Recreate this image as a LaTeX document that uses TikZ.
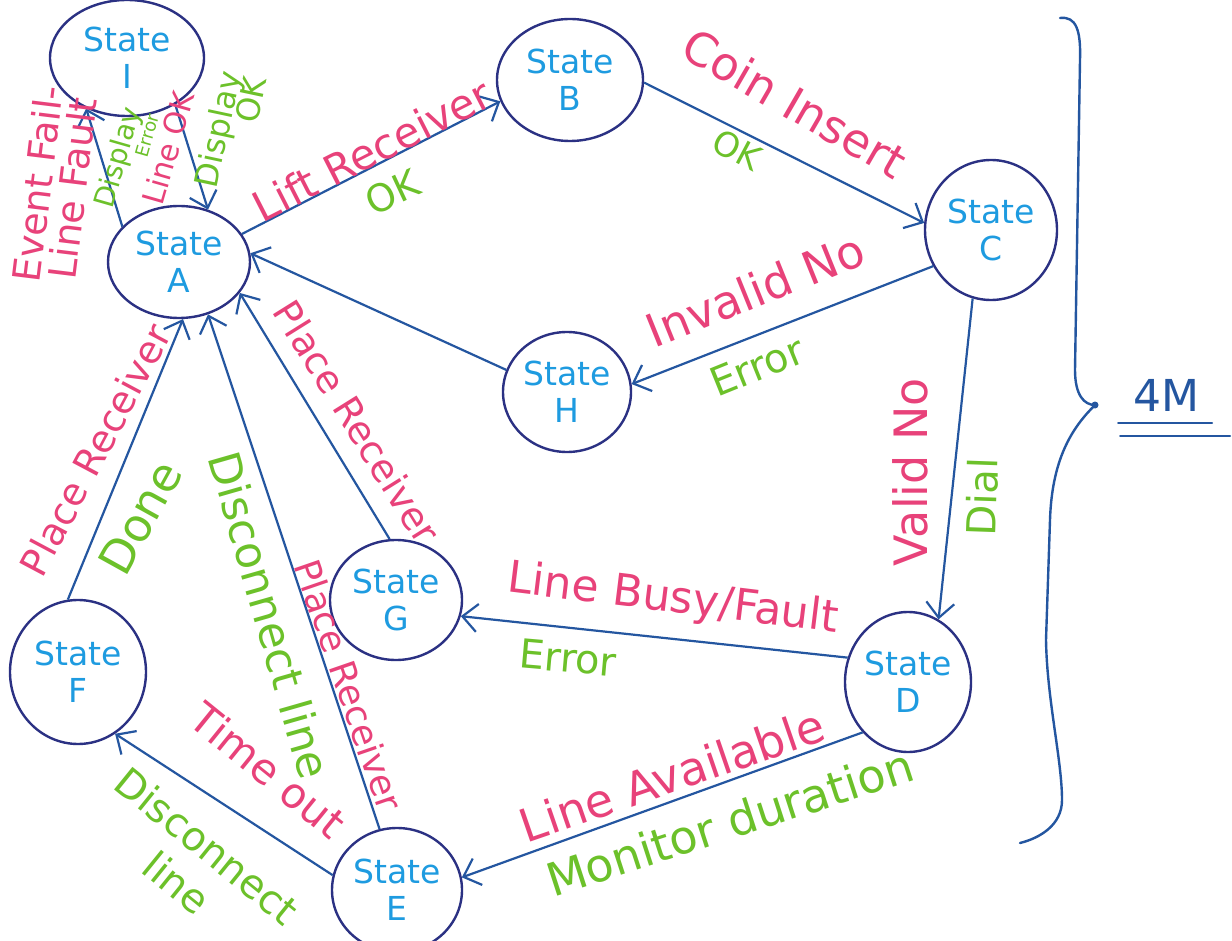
\documentclass[tikz,border=0pt]{standalone}
\usepackage{fontspec}
\setmainfont{DejaVu Sans}
\usetikzlibrary{shapes.geometric,arrows.meta}
\definecolor{navy}{HTML}{2B3183}
\definecolor{edgeblue}{HTML}{2456A0}
\definecolor{statecyan}{HTML}{1E9BE0}
\definecolor{pinkl}{HTML}{E8427A}
\definecolor{greenl}{HTML}{6CC12A}
\begin{document}
\begin{tikzpicture}[x=1pt,y=-1pt,
  state/.style={ellipse, draw=navy, line width=2.4pt, text=statecyan, inner sep=0pt, align=center, font=\fontsize{33}{37}\selectfont},
  conn/.style={draw=edgeblue, line width=2.2pt, -{Straight Barb[length=15pt,width=28pt,line width=2.2pt]}},
  pinklab/.style={text=pinkl, inner sep=0pt, align=center, font=\fontsize{#1}{#1}\selectfont},
  greenlab/.style={text=greenl, inner sep=0pt, align=center, font=\fontsize{#1}{#1}\selectfont},
  brace/.style={draw=edgeblue, line width=2.4pt, line cap=round},
]
\fill[white] (0,0) rectangle (1232,941);
\useasboundingbox (0,0) rectangle (1232,941);

% states
\node[state, minimum width=154, minimum height=116] (I) at (127,58) {State\\I};
\node[state, minimum width=142, minimum height=112] (A) at (179,262) {State\\A};
\node[state, minimum width=146, minimum height=122] (B) at (570,80) {State\\B};
\node[state, minimum width=132, minimum height=140] (C) at (991,230) {State\\C};
\node[state, minimum width=128, minimum height=120] (H) at (567,392) {State\\H};
\node[state, minimum width=132, minimum height=120] (G) at (396,600) {State\\G};
\node[state, minimum width=126, minimum height=140] (D) at (908,682) {State\\D};
\node[state, minimum width=136, minimum height=144] (F) at (78,672) {State\\F};
\node[state, minimum width=130, minimum height=124] (E) at (397,890) {State\\E};

% transitions
\draw[conn] (A.148) -- (I.231);
\draw[conn] (I.316) -- (A.61);
\draw[conn] (A.24) -- (B.197);
\draw[conn] (B.358) -- (C.174);
\draw[conn] (C.212) -- (H.7);
\draw[conn] (H.160) -- (A.7);
\draw[conn] (C.255) -- (D.64);
\draw[conn] (D.158) -- (G.346);
\draw[conn] (D.228) -- (E.11);
\draw[conn] (E.167) -- (F.301);
\draw[conn] (F.98) -- (A.274);
\draw[conn] (E.106) -- (A.299);
\draw[conn] (G.96) -- (A.333);

% labels
\node[pinklab=38, rotate=83] (lEF) at (55,186) {Event Fail-\\[-3pt]Line Fault};
\node[greenlab=28, rotate=74, align=right] (lDE) at (126,160) {Display\\[-8pt]{\fontsize{18}{18}\selectfont Error}};
\node[pinklab=30, rotate=74] (lLOK) at (168,148) {Line OK};
\node[greenlab=32, rotate=78, align=right] (lDOK) at (230,132) {Display\\[-6pt]OK};

\node[pinklab=42, rotate=27] (lLR) at (372,150) {Lift Receiver};
\node[greenlab=38, rotate=25] (lOK1) at (392,192) {OK};
\node[pinklab=46, rotate=-30] (lCI) at (795,103) {Coin Insert};
\node[greenlab=34, rotate=-28] (lOK2) at (737,150) {OK};
\node[pinklab=46, rotate=22] (lIN) at (755,290) {Invalid No};
\node[greenlab=40, rotate=22] (lE1) at (757,366) {Error};
\node[pinklab=46, rotate=90] (lVN) at (910,472) {Valid No};
\node[greenlab=40, rotate=88] (lDial) at (982,497) {Dial};
\node[pinklab=44, rotate=-7] (lLBF) at (673,600) {Line Busy/Fault};
\node[greenlab=40, rotate=-5] (lE2) at (568,658) {Error};
\node[pinklab=46, rotate=19] (lLA) at (672,775) {Line Available};
\node[greenlab=46, rotate=18] (lMD) at (730,822) {Monitor duration};
\node[pinklab=42, rotate=-39] (lTO) at (268,770) {Time out};
\node[greenlab=40, rotate=-39] (lDL1) at (192,864) {Disconnect\\[8pt]line};
\node[pinklab=38, rotate=62] (lPR1) at (95,450) {Place Receiver};
\node[greenlab=46, rotate=61] (lDone) at (140,518) {Done};
\node[greenlab=44, rotate=-74] (lDL2) at (270,615) {Disconnect line};
\node[pinklab=36, rotate=-71] (lPR2) at (349,685) {Place Receiver};
\node[pinklab=38, rotate=-58] (lPR3) at (357,422) {Place Receiver};

% brace and mark
\draw[brace] (1060,18) .. controls (1076,16) and (1081,30) .. (1080,60) -- (1075,370) .. controls (1075,395) and (1084,405) .. (1095,405);
\draw[brace] (1095,405) .. controls (1075,425) and (1052,455) .. (1050,520) -- (1046,640) .. controls (1047,700) and (1062,760) .. (1062,800) .. controls (1062,825) and (1040,838) .. (1020,843);
\fill[edgeblue] (1095,405) circle (3.5);
\node[text=edgeblue, inner sep=0pt, font=\fontsize{44}{44}\selectfont] (fourm) at (1166,395) {4M};
\draw[brace, line width=2pt] ([xshift=-48pt, yshift=-28pt]fourm.center) -- ([xshift=46pt, yshift=-28pt]fourm.center);
\draw[brace, line width=2pt] ([xshift=-46pt, yshift=-41pt]fourm.center) -- ([xshift=64pt, yshift=-41pt]fourm.center);
\end{tikzpicture}
\end{document}
